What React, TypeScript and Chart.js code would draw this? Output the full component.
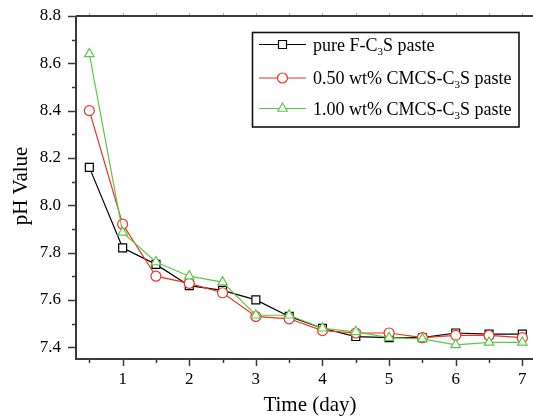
import React, { useEffect, useRef } from "react";
import { Chart, registerables } from "chart.js";

Chart.register(...registerables);

const days = [0.5, 1, 1.5, 2, 2.5, 3, 3.5, 4, 4.5, 5, 5.5, 6, 6.5, 7];
const pureValues = [8.16, 7.82, 7.75, 7.66, 7.64, 7.60, 7.53, 7.48, 7.445, 7.44, 7.44, 7.46, 7.455, 7.455];
const cmcs050Values = [8.40, 7.92, 7.70, 7.67, 7.63, 7.53, 7.52, 7.47, 7.46, 7.46, 7.44, 7.45, 7.45, 7.44];
const cmcs100Values = [8.64, 7.885, 7.76, 7.70, 7.675, 7.535, 7.535, 7.48, 7.465, 7.44, 7.435, 7.41, 7.42, 7.42];

const xTickLabels = [1, 2, 3, 4, 5, 6, 7];
const yTickLabels = [7.4, 7.6, 7.8, 8.0, 8.2, 8.4, 8.6, 8.8];

const seriesNames = [
  ["pure F-C", "3", "S paste"],
  ["0.50 wt% CMCS-C", "3", "S paste"],
  ["1.00 wt% CMCS-C", "3", "S paste"],
];
const xTitle = "Time (day)";
const yTitle = "pH Value";

const SERIF = "'Liberation Serif', 'Times New Roman', serif";
const BLACK = "#000000";
const RED = "#ee3322";
const GREEN = "#5cc84a";
const AXIS = "#3a3a3a";

function drawMarker(ctx: CanvasRenderingContext2D, style: string, x: number, y: number, color: string) {
  ctx.save();
  ctx.fillStyle = "#ffffff";
  ctx.strokeStyle = color;
  ctx.lineWidth = 1.2;
  ctx.beginPath();
  if (style === "rect") {
    ctx.rect(x - 4, y - 4, 8, 8);
  } else if (style === "circle") {
    ctx.arc(x, y, 5, 0, Math.PI * 2);
  } else {
    const r = 5.5;
    ctx.moveTo(x, y - r);
    ctx.lineTo(x + r * 0.866, y + r * 0.5);
    ctx.lineTo(x - r * 0.866, y + r * 0.5);
    ctx.closePath();
  }
  ctx.fill();
  ctx.stroke();
  ctx.restore();
}

const decorPlugin = {
  id: "decor",
  afterDraw(chart: any) {
    const ctx: CanvasRenderingContext2D = chart.ctx;
    const xs = chart.scales.x;
    const ys = chart.scales.y;
    const area = chart.chartArea;
    const W = chart.width;
    ctx.save();
    ctx.strokeStyle = AXIS;
    ctx.lineWidth = 2;
    ctx.beginPath();
    ctx.moveTo(area.left, area.top);
    ctx.lineTo(area.left, area.bottom);
    ctx.lineTo(W, area.bottom);
    ctx.moveTo(area.left, area.top);
    ctx.lineTo(W, area.top);
    ctx.stroke();

    ctx.lineWidth = 1.5;
    ctx.beginPath();
    for (let i = 0; i < yTickLabels.length; i++) {
      const py = Math.round(ys.getPixelForValue(yTickLabels[i])) + 0.5;
      ctx.moveTo(area.left - 8, py);
      ctx.lineTo(area.left, py);
      if (i < yTickLabels.length - 1) {
        const pm = Math.round(ys.getPixelForValue(yTickLabels[i] + 0.1)) + 0.5;
        ctx.moveTo(area.left - 4, pm);
        ctx.lineTo(area.left, pm);
      }
    }
    for (let i = 0; i < xTickLabels.length; i++) {
      const px = Math.round(xs.getPixelForValue(xTickLabels[i])) + 0.5;
      ctx.moveTo(px, area.bottom);
      ctx.lineTo(px, area.bottom + 7);
      const pm = Math.round(xs.getPixelForValue(xTickLabels[i] - 0.5)) + 0.5;
      ctx.moveTo(pm, area.bottom);
      ctx.lineTo(pm, area.bottom + 4);
    }
    ctx.stroke();

    ctx.strokeStyle = "#b0b0b0";
    ctx.lineWidth = 1;
    ctx.beginPath();
    for (let i = 0; i < xTickLabels.length; i++) {
      const px = Math.round(xs.getPixelForValue(xTickLabels[i])) + 0.5;
      ctx.moveTo(px, area.top - 1);
      ctx.lineTo(px, area.top - 3);
      const pm = Math.round(xs.getPixelForValue(xTickLabels[i] - 0.5)) + 0.5;
      ctx.moveTo(pm, area.top - 1);
      ctx.lineTo(pm, area.top - 3);
    }
    ctx.stroke();

    ctx.fillStyle = "#000";
    ctx.font = `21px ${SERIF}`;
    ctx.textAlign = "center";
    ctx.textBaseline = "alphabetic";
    ctx.fillText(xTitle, 310, 411);
    ctx.save();
    ctx.translate(27, 186);
    ctx.rotate(-Math.PI / 2);
    ctx.fillText(yTitle, 0, 0);
    ctx.restore();

    const lx = 252.5, ly = 32.5, lw = 266.5, lh = 94.5;
    ctx.fillStyle = "#fff";
    ctx.fillRect(lx, ly, lw, lh);
    ctx.strokeStyle = "#111";
    ctx.lineWidth = 1.6;
    ctx.strokeRect(lx, ly, lw, lh);
    const rowsY = [44.5, 78, 108.5];
    const colors = [BLACK, RED, GREEN];
    const styles = ["rect", "circle", "triangle"];
    for (let i = 0; i < 3; i++) {
      const yy = rowsY[i];
      ctx.strokeStyle = colors[i];
      ctx.lineWidth = 1.2;
      ctx.beginPath();
      ctx.moveTo(259, yy);
      ctx.lineTo(306, yy);
      ctx.stroke();
      drawMarker(ctx, styles[i], 282.5, yy, colors[i]);
      const [a, sub, b] = seriesNames[i];
      ctx.fillStyle = "#000";
      ctx.textAlign = "left";
      ctx.textBaseline = "alphabetic";
      const base = yy + 6;
      ctx.font = `18px ${SERIF}`;
      let tx = 313;
      ctx.fillText(a, tx, base);
      tx += ctx.measureText(a).width;
      ctx.font = `11px ${SERIF}`;
      ctx.fillText(sub, tx, base + 4);
      tx += ctx.measureText(sub).width;
      ctx.font = `18px ${SERIF}`;
      ctx.fillText(b, tx, base);
    }
    ctx.restore();
  },
};

export default function App() {
  const ref = useRef<HTMLCanvasElement | null>(null);
  useEffect(() => {
    if (!ref.current) return;
    const mk = (vals: number[]) => days.map((d, i) => ({ x: d, y: vals[i] }));
    const chart = new Chart(ref.current, {
      type: "line",
      data: {
        datasets: [
          {
            label: "pure F-C3S paste",
            data: mk(pureValues),
            borderColor: BLACK,
            borderWidth: 1.2,
            pointStyle: "rect",
            pointRadius: 5.6,
            pointBorderWidth: 1.2,
            pointBackgroundColor: "#fff",
            pointBorderColor: BLACK,
            order: 3,
          },
          {
            label: "0.50 wt% CMCS-C3S paste",
            data: mk(cmcs050Values),
            borderColor: RED,
            borderWidth: 1.2,
            pointStyle: "circle",
            pointRadius: 5,
            pointBorderWidth: 1.2,
            pointBackgroundColor: "#fff",
            pointBorderColor: RED,
            order: 2,
          },
          {
            label: "1.00 wt% CMCS-C3S paste",
            data: mk(cmcs100Values),
            borderColor: GREEN,
            borderWidth: 1.2,
            pointStyle: "triangle",
            pointRadius: 5.5,
            pointBorderWidth: 1.2,
            pointBackgroundColor: "#fff",
            pointBorderColor: GREEN,
            order: 1,
          },
        ],
      },
      options: {
        animation: false,
        responsive: false,
        devicePixelRatio: 1,
        layout: { autoPadding: false, padding: { top: 16, left: 0, right: 0, bottom: 0 } },
        plugins: { legend: { display: false }, tooltip: { enabled: false } },
        elements: { line: { tension: 0 } },
        scales: {
          x: {
            type: "linear",
            min: 0.3,
            max: 7.16,
            grid: { display: false, drawTicks: true, tickLength: 10 },
            border: { display: false },
            afterFit: (s: any) => { s.height = 61; },
            afterBuildTicks: (s: any) => { s.ticks = xTickLabels.map((v) => ({ value: v })); },
            ticks: {
              padding: 0,
              maxRotation: 0,
              autoSkip: false,
              color: "#000",
              font: { family: SERIF, size: 17 },
              callback: (v: any) => String(v),
            },
          },
          y: {
            type: "linear",
            min: 7.35,
            max: 8.8,
            grid: { display: false, drawTicks: true, tickLength: 15 },
            border: { display: false },
            afterFit: (s: any) => { s.width = 76; },
            afterBuildTicks: (s: any) => { s.ticks = yTickLabels.map((v) => ({ value: v })); },
            ticks: {
              padding: 0,
              autoSkip: false,
              color: "#000",
              font: { family: SERIF, size: 17 },
              callback: (v: any) => Number(v).toFixed(1),
            },
          },
        },
      },
      plugins: [decorPlugin],
    } as any);
    return () => chart.destroy();
  }, []);
  return (
    <div style={{ position: "fixed", left: 0, top: 0, width: 533, height: 420, background: "#fff" }}>
      <canvas ref={ref} width={533} height={420} style={{ display: "block" }} />
    </div>
  );
}
